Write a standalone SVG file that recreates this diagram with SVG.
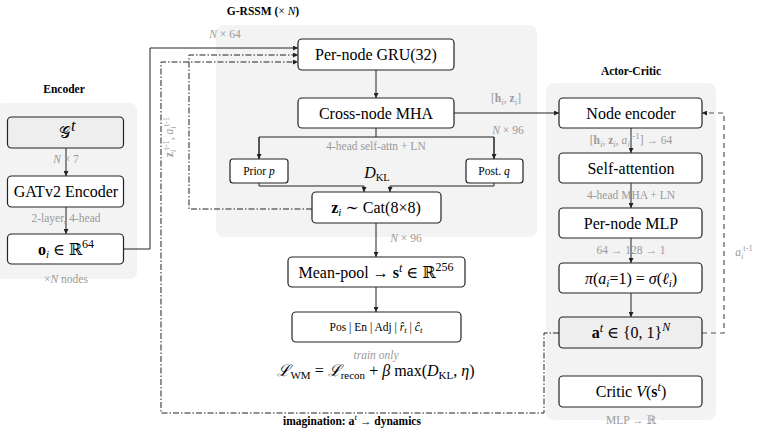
<svg xmlns="http://www.w3.org/2000/svg" width="765" height="441" viewBox="0 0 765 441">
<defs>
<style>
.panel{fill:#f3f3f3}
.box{fill:#fff;stroke:#222;stroke-width:1.2}
.boxg{fill:#eeeeee;stroke:#222;stroke-width:1.2}
.t{font-family:"Liberation Serif","DejaVu Serif",serif;font-size:16px;fill:#000}
.s{font-family:"Liberation Serif","DejaVu Serif",serif;font-size:11.5px;fill:#000}
.g{font-family:"Liberation Serif","DejaVu Serif",serif;font-size:11.5px;fill:#9a9a9a}
.b{font-family:"Liberation Serif","DejaVu Serif",serif;font-size:11.5px;font-weight:bold;fill:#000}
.i{font-style:italic}
.ln{fill:none;stroke:#222;stroke-width:1}
.dd{fill:none;stroke:#222;stroke-width:1;stroke-dasharray:6 2 1.5 2}
.da{fill:none;stroke:#555;stroke-width:1.2;stroke-dasharray:5 4}
</style>
<marker id="ar" viewBox="0 0 6 6" refX="6" refY="3" markerWidth="5" markerHeight="5" orient="auto" markerUnits="userSpaceOnUse">
<path d="M0,0 L6,3 L0,6 z" fill="#222"/>
</marker>
</defs>

<!-- panels -->
<rect class="panel" x="-4" y="103" width="141" height="176" rx="7"/>
<rect class="panel" x="216" y="25" width="321" height="212" rx="8"/>
<rect class="panel" x="546" y="83" width="170" height="337" rx="8"/>

<!-- titles -->
<text class="b" x="64" y="93" text-anchor="middle">Encoder</text>
<text class="b" x="263" y="15" text-anchor="middle">G-RSSM (<tspan font-weight="normal">× </tspan><tspan class="i" font-weight="normal">N</tspan>)</text>
<text class="b" x="631" y="75" text-anchor="middle">Actor-Critic</text>

<!-- connectors -->
<g id="connectors">
<line class="ln" x1="66" y1="148" x2="66" y2="176" marker-end="url(#ar)"/>
<line class="ln" x1="66" y1="207" x2="66" y2="234" marker-end="url(#ar)"/>
<polyline class="ln" points="124,249 150,249 150,48 298,48" marker-end="url(#ar)"/>
<line class="ln" x1="376" y1="70" x2="376" y2="98" marker-end="url(#ar)"/>
<polyline class="ln" points="376,128 376,137"/>
<polyline class="ln" points="259,159 259,137 494,137 494,159"/>
<line class="ln" x1="259" y1="137" x2="259" y2="159" marker-end="url(#ar)"/>
<line class="ln" x1="494" y1="137" x2="494" y2="159" marker-end="url(#ar)"/>
<polyline class="ln" points="259,183 259,186 364,186 364,192" marker-end="url(#ar)"/>
<polyline class="ln" points="494,183 494,186 390,186 390,192" marker-end="url(#ar)"/>
<line class="ln" x1="376" y1="223" x2="376" y2="257" marker-end="url(#ar)"/>
<line class="ln" x1="376" y1="287" x2="376" y2="312" marker-end="url(#ar)"/>
<line class="ln" x1="454" y1="113" x2="559" y2="113" marker-end="url(#ar)"/>
<line class="ln" x1="631" y1="128" x2="631" y2="153" marker-end="url(#ar)"/>
<line class="ln" x1="631" y1="183" x2="631" y2="208" marker-end="url(#ar)"/>
<line class="ln" x1="631" y1="238" x2="631" y2="263" marker-end="url(#ar)"/>
<line class="ln" x1="631" y1="293" x2="631" y2="317" marker-end="url(#ar)"/>
<polyline class="dd" points="312,209 189,209 189,55 298,55" marker-end="url(#ar)"/>
<polyline class="dd" points="559,333 544,333 544,413 161,413 161,62 298,62" marker-end="url(#ar)"/>
<polyline class="da" points="702,333 724,333 724,113 702,113" marker-end="url(#ar)"/>
</g>

<!-- Encoder nodes -->
<g id="graph">
<rect class="boxg" x="7.5" y="117" width="116" height="31" rx="4"/>
<text class="t" x="64" y="138" text-anchor="middle">𝒢</text>
<text class="t i" x="71" y="131" font-size="11">t</text>
</g>
<g id="gat">
<rect class="box" x="7.5" y="176" width="116" height="31" rx="4"/>
<text class="t" x="66" y="197" text-anchor="middle">GATv2 Encoder</text>
</g>
<g id="obs">
<rect class="box" x="7.5" y="234" width="116" height="30" rx="4"/>
<text class="t" x="66" y="255" text-anchor="middle"><tspan font-weight="bold">o</tspan><tspan class="i" font-size="11" dy="3">i</tspan><tspan dy="-3"> ∈ ℝ</tspan><tspan font-size="12" dy="-7">64</tspan></text>
</g>
<text class="g" x="66" y="163" text-anchor="middle"><tspan class="i">N</tspan> × 7</text>
<text class="g" x="66" y="222" text-anchor="middle">2-layer, 4-head</text>
<text class="g" x="66" y="283" text-anchor="middle">×<tspan class="i">N</tspan> nodes</text>

<!-- G-RSSM nodes -->
<text class="g" x="225" y="38" text-anchor="middle" font-size="12"><tspan class="i">N</tspan> × 64</text>
<g id="gru">
<rect class="box" x="298" y="39" width="156" height="31" rx="4"/>
<text class="t" x="376" y="60" text-anchor="middle">Per-node GRU(32)</text>
</g>
<g id="mha">
<rect class="box" x="298" y="98" width="156" height="30" rx="4"/>
<text class="t" x="376" y="119" text-anchor="middle">Cross-node MHA</text>
</g>
<text class="g" x="376" y="150" text-anchor="middle" font-size="10.5">4-head self-attn + LN</text>
<g id="prior">
<rect class="box" x="230" y="159" width="58" height="24" rx="3"/>
<text class="s" x="259" y="175" text-anchor="middle">Prior <tspan class="i">p</tspan></text>
</g>
<g id="post">
<rect class="box" x="466" y="159" width="57" height="24" rx="3"/>
<text class="s" x="494" y="175" text-anchor="middle">Post. <tspan class="i">q</tspan></text>
</g>
<text class="t" x="377" y="178" text-anchor="middle" font-size="14"><tspan class="i">D</tspan><tspan font-size="10.5" dy="3">KL</tspan></text>
<g id="z">
<rect class="box" x="312" y="192" width="129" height="31" rx="4"/>
<text class="t" x="376" y="213" text-anchor="middle"><tspan font-weight="bold">z</tspan><tspan class="i" font-size="11" dy="3">i</tspan><tspan dy="-3"> ∼ Cat(8×8)</tspan></text>
</g>
<text class="g" x="406" y="242" text-anchor="middle" font-size="12"><tspan class="i">N</tspan> × 96</text>
<g id="pool">
<rect class="box" x="288" y="257" width="177" height="30" rx="4"/>
<text class="t" x="376" y="278" text-anchor="middle">Mean-pool → <tspan font-weight="bold">s</tspan><tspan class="i" font-size="12" dy="-6">t</tspan><tspan dy="6"> ∈ ℝ</tspan><tspan font-size="12" dy="-7">256</tspan></text>
</g>
<g id="heads">
<rect class="box" x="292" y="312" width="169" height="30" rx="4"/>
<text class="s" x="376" y="331" text-anchor="middle">Pos | En | Adj | <tspan class="i">r̂</tspan><tspan class="i" font-size="9" dy="2">t</tspan><tspan dy="-2"> | </tspan><tspan class="i">ĉ</tspan><tspan class="i" font-size="9" dy="2">t</tspan></text>
</g>
<text class="g" x="376" y="359" text-anchor="middle" font-size="10.5"><tspan class="i">train only</tspan></text>
<text class="t" x="376" y="376" text-anchor="middle" font-size="17"><tspan class="i">ℒ</tspan><tspan font-size="11" dy="3">WM</tspan><tspan dy="-3"> = </tspan><tspan class="i">ℒ</tspan><tspan font-size="11" dy="3">recon</tspan><tspan dy="-3"> + </tspan><tspan class="i">β</tspan> max(<tspan class="i">D</tspan><tspan font-size="11" dy="3">KL</tspan><tspan dy="-3">, </tspan><tspan class="i">η</tspan>)</text>

<text class="g" x="506" y="102" text-anchor="middle" font-size="12">[<tspan font-weight="bold">h</tspan><tspan class="i" font-size="9" dy="3">i</tspan><tspan dy="-3">, </tspan><tspan font-weight="bold">z</tspan><tspan class="i" font-size="9" dy="3">i</tspan><tspan dy="-3">]</tspan></text>
<text class="g" x="508" y="134" text-anchor="middle" font-size="12"><tspan class="i">N</tspan> × 96</text>

<text class="g" transform="translate(173,137) rotate(-90)" text-anchor="middle" font-size="11"><tspan font-weight="bold">z</tspan><tspan class="i" font-size="8.5" dy="3">i</tspan><tspan font-size="8.5" dy="-7">t-1</tspan><tspan dy="4">, </tspan><tspan class="i">a</tspan><tspan class="i" font-size="8.5" dy="3">i</tspan><tspan font-size="8.5" dy="-7">t-1</tspan></text>

<!-- Actor-Critic nodes -->
<g id="nodeenc">
<rect class="box" x="559" y="98" width="143" height="30" rx="4"/>
<text class="t" x="631" y="119" text-anchor="middle">Node encoder</text>
</g>
<text class="g" x="631" y="144" text-anchor="middle" font-size="12">[<tspan font-weight="bold">h</tspan><tspan class="i" font-size="9" dy="3">i</tspan><tspan dy="-3">, </tspan><tspan font-weight="bold">z</tspan><tspan class="i" font-size="9" dy="3">i</tspan><tspan dy="-3">, </tspan><tspan class="i">a</tspan><tspan class="i" font-size="9" dy="3">i</tspan><tspan font-size="9" dy="-8">t-1</tspan><tspan dy="5">] → 64</tspan></text>
<g id="selfatt">
<rect class="box" x="559" y="153" width="143" height="30" rx="4"/>
<text class="t" x="631" y="174" text-anchor="middle">Self-attention</text>
</g>
<text class="g" x="631" y="199" text-anchor="middle" font-size="11">4-head MHA + LN</text>
<g id="mlp">
<rect class="box" x="559" y="208" width="143" height="30" rx="4"/>
<text class="t" x="631" y="229" text-anchor="middle">Per-node MLP</text>
</g>
<text class="g" x="631" y="254" text-anchor="middle" font-size="11">64 → 128 → 1</text>
<g id="policy">
<rect class="box" x="559" y="263" width="143" height="30" rx="4"/>
<text class="t" x="631" y="284" text-anchor="middle"><tspan class="i">π</tspan>(<tspan class="i">a</tspan><tspan class="i" font-size="11" dy="3">i</tspan><tspan dy="-3">=1) = </tspan><tspan class="i">σ</tspan>(<tspan class="i">ℓ</tspan><tspan class="i" font-size="11" dy="3">i</tspan><tspan dy="-3">)</tspan></text>
</g>
<g id="action">
<rect class="boxg" x="559" y="317" width="143" height="31" rx="4"/>
<text class="t" x="631" y="338" text-anchor="middle"><tspan font-weight="bold">a</tspan><tspan class="i" font-size="12" dy="-6">t</tspan><tspan dy="6"> ∈ {0, 1}</tspan><tspan class="i" font-size="12" dy="-7">N</tspan></text>
</g>
<g id="critic">
<rect class="box" x="559" y="376" width="143" height="31" rx="4"/>
<text class="t" x="631" y="397" text-anchor="middle">Critic <tspan class="i">V</tspan>(<tspan font-weight="bold">s</tspan><tspan class="i" font-size="12" dy="-6">t</tspan><tspan dy="6">)</tspan></text>
</g>
<text class="g" x="631" y="424" text-anchor="middle" font-size="11">MLP → ℝ</text>
<text class="g" x="744" y="256" text-anchor="middle" font-size="11"><tspan class="i">a</tspan><tspan class="i" font-size="8.5" dy="3">i</tspan><tspan font-size="8.5" dy="-8">t-1</tspan></text>

<text class="b" x="352" y="425" text-anchor="middle">imagination: <tspan font-size="12">a</tspan><tspan class="i" font-weight="normal" font-size="9" dy="-5">t</tspan><tspan font-weight="normal" dy="5"> → </tspan>dynamics</text>
</svg>
